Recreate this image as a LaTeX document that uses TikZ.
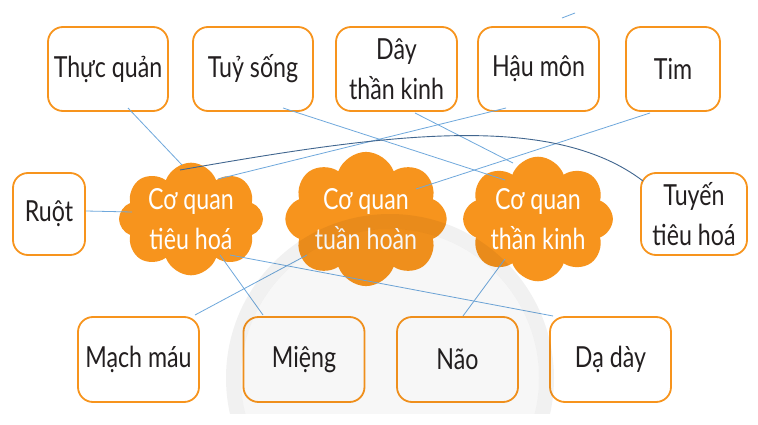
\documentclass[tikz,border=0pt]{standalone}
\usepackage{fontspec}
\setmainfont{Lato}[FakeStretch=0.8]
\usetikzlibrary{shapes.symbols,calc}
\definecolor{boxor}{HTML}{F7941D}
\definecolor{cloudor}{HTML}{F7941D}
\definecolor{linkblue}{HTML}{6FA8DC}
\definecolor{darklink}{HTML}{41668F}
\definecolor{txt}{HTML}{231F20}
\begin{document}
\begin{tikzpicture}[x=1pt,y=-1pt,
  box/.style={draw=boxor, line width=1.8pt, rounded corners=15pt, fill=white,
    align=center, text=txt, font=\fontsize{29}{40}\selectfont, inner sep=0pt,
    minimum width=121pt, minimum height=84pt},
  organ/.style={shape=cloud, cloud puffs=8, cloud puff arc=140, aspect=1.4,
    fill=cloudor, text=white, align=center, font=\fontsize{29}{40}\selectfont,
    inner sep=0pt, minimum width=144pt, minimum height=100pt},
  link/.style={draw=linkblue, line width=0.8pt},
  darkline/.style={draw=darklink, line width=0.9pt}]
\useasboundingbox (0,0) rectangle (758,425);
\fill[white] (0,0) rectangle (758,425);

% clouds
\node[organ] (c1) at (191,219) {Cơ quan\\tiêu hoá};
\node[organ] (c2) at (366,219) {Cơ quan\\tuần hoàn};
\node[organ] (c3) at (538,219) {Cơ quan\\thần kinh};

% boxes top row
\node[box, minimum width=120pt] (tq) at (108,69) {Thực quản};
\node[box, minimum width=120pt] (ts) at (253,69) {Tuỷ sống};
\node[box] (dtk) at (396.5,69) {Dây\\thần kinh};
\node[box] (hm) at (538.5,69) {Hậu môn};
\node[box, minimum width=94pt] (tim) at (673,69) {Tim};
% middle row
\node[box, minimum width=72pt, minimum height=82pt] (ruot) at (49,214) {Ruột};
\node[box, minimum width=106pt, minimum height=82pt] (tth) at (694,214) {Tuyến\\tiêu hoá};
% bottom row
\node[box, minimum height=85pt] (mm) at (138.5,359.5) {Mạch máu};
\node[box, minimum height=85pt] (mieng) at (304,359.5) {Miệng};
\node[box, minimum height=85pt] (nao) at (457.5,359.5) {Não};
\node[box, minimum height=85pt] (dd) at (610.5,359.5) {Dạ dày};

% connectors
\draw[link] ([shift={(20,39)}]tq.center) -- ([shift={(-9,-54)}]c1.center);
\draw[link] (ruot.east |- 0,211) -- ([shift={(-59,-7)}]c1.center);
\draw[link] ([shift={(30,39)}]ts.center) -- ([shift={(-33,-39)}]c3.center);
\draw[link] ([shift={(-32.5,39)}]hm.center) -- ([shift={(27,-40)}]c1.center);
\draw[link] ([shift={(18.5,44)}]dtk.center) -- ([shift={(-25,-56)}]c3.center);
\draw[link] ([shift={(-23,44)}]tim.center) -- ([shift={(50,-30)}]c2.center);
\draw[link] ([shift={(-59,36)}]c2.center) -- ([shift={(56.5,-44.5)}]mm.center);
\draw[link] ([shift={(29,36)}]c1.center) -- ([shift={(-41,-44.5)}]mieng.center);
\draw[link] ([shift={(39,36)}]c1.center) -- ([shift={(-57.5,-43.5)}]dd.center);
\draw[link] ([shift={(-33,40)}]c3.center) -- ([shift={(5.5,-43.5)}]nao.center);
\draw[darkline] ([shift={(-11,-49)}]c1.center) .. controls (380,135) and (550,110) .. ([shift={(-51,-33)}]tth.center);
\coordinate (s1) at (562,18);
\coordinate (s2) at (575,13);
\draw[link] (s1) -- (s2);

% faint watermark
\begin{scope}
\clip (0,0) rectangle (758,413);
\fill[black, opacity=0.03] (390,378) circle (149);
\fill[black, opacity=0.055, even odd rule] (390,378) circle (164) (390,378) circle (149);
\end{scope}
\end{tikzpicture}
\end{document}
